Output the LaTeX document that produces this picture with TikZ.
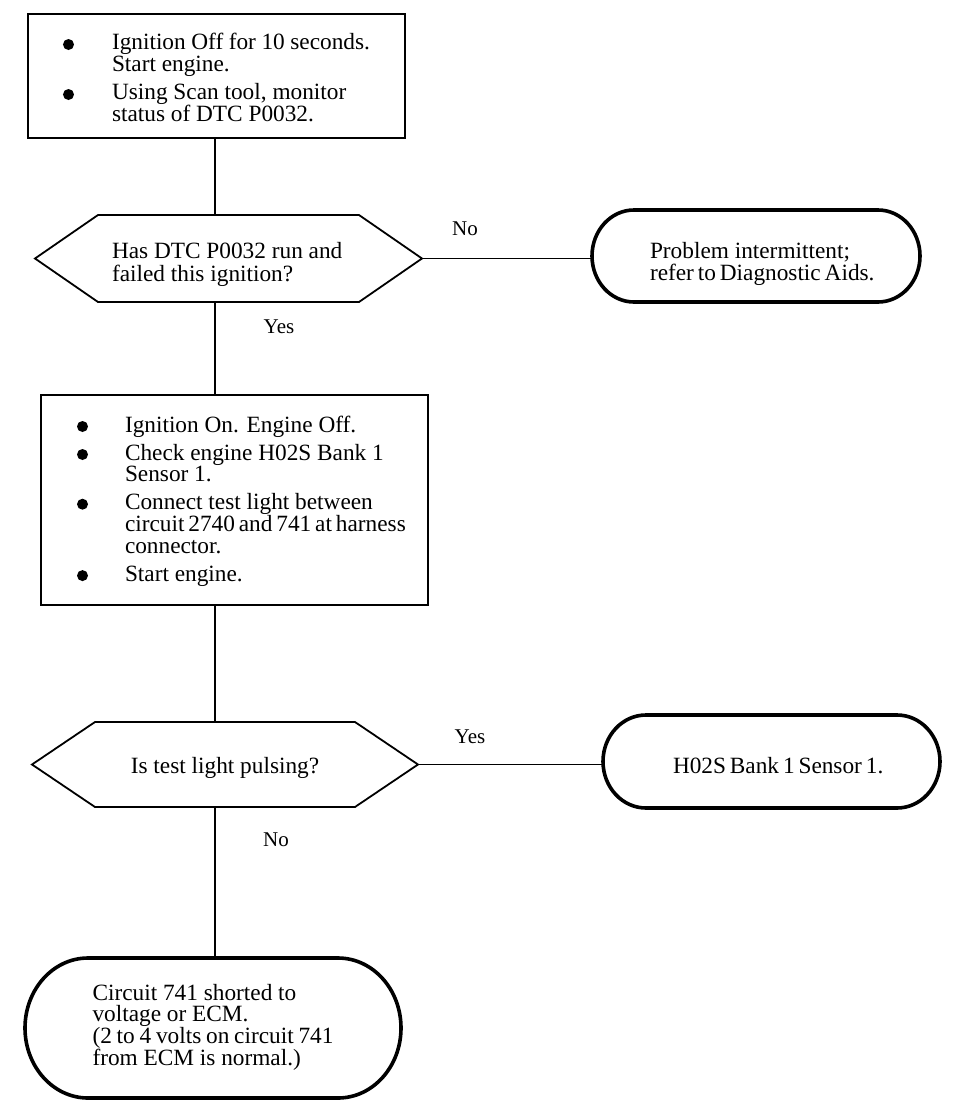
\documentclass[tikz,border=0pt]{standalone}
\usepackage{graphicx}
\usepackage{fontspec}
\setmainfont{Liberation Serif}
\newcommand\bul{\tikz[baseline=-5.5pt]\fill (0,0) circle (5.5pt);}
\newcommand\bline[3]{\hbox to #1{\hbox to #2{\bul\hfil}#3\hfil}}
\newcommand\pline[3]{\hbox to #1{\hskip#2\relax#3\hfil}}
\newcommand\tline[2]{\hbox to #1{#2\hfil}}
\newcommand\setlines[1]{\baselineskip=#1\lineskiplimit=-100pt\lineskip=0pt\relax}
\newcommand\termoutline[3]{\draw[termline] ([xshift=#2]#1.north west) -- ([xshift=-#2]#1.north east) arc[start angle=90,end angle=-90,x radius=#2,y radius=#3] -- ([xshift=#2]#1.south west) arc[start angle=270,end angle=90,x radius=#2,y radius=#3] -- cycle;}
\newcommand\hexoutline[2]{\draw[hexline] ([xshift=#2]#1.north west) -- ([xshift=-#2]#1.north east) -- (#1.east) -- ([xshift=-#2]#1.south east) -- ([xshift=#2]#1.south west) -- (#1.west) -- cycle;}
\tikzset{
  txt/.style={font=\fontsize{23.3pt}{23.3pt}\selectfont, inner sep=0pt, outer sep=0pt},
  stepbox/.style={txt, rectangle, draw, line width=1.8pt},
  shapebox/.style={txt, rectangle, draw=none},
  hexline/.style={line width=1.8pt, line join=miter},
  termline/.style={line width=3.6pt},
  conn/.style={line width=1.8pt},
  lbl/.style={font=\fontsize{21pt}{21pt}\selectfont, inner sep=0pt},
}
\begin{document}
\begin{tikzpicture}[x=1pt,y=-1pt]
\path[fill=white] (0,0) rectangle (960,1116);
\coordinate (sp) at (215,0);

% first step box
\node[stepbox, minimum width=377pt, minimum height=124pt, text height=10pt, text depth=62pt] (box1) at (216.5,76) {\vtop{\setlines{21.7pt}%
  \bline{307pt}{49pt}{Ignition Off for 10 seconds.}
  \pline{307pt}{49pt}{Start engine.}
  \vskip6.6pt
  \bline{307pt}{49pt}{Using Scan tool, monitor}
  \pline{307pt}{49pt}{status of DTC P0032.}}};

% first decision
\node[shapebox, minimum width=387pt, minimum height=87pt, text height=15pt, text depth=16pt] (hex1) at (228.5,258.5) {\vtop{\setlines{23pt}%
  \tline{233pt}{Has DTC P0032 run and}
  \tline{233pt}{failed this ignition?}}};
\hexoutline{hex1}{63pt}

% terminal: intermittent
\node[shapebox, minimum width=328pt, minimum height=92pt, text height=15pt, text depth=11pt] (term1) at (756,256) {\vtop{\setlines{22pt}%
  \tline{212pt}{Problem intermittent;}
  \tline{212pt}{refer to Diagnostic Aids.}}};
\termoutline{term1}{42pt}{46pt}

% second step box
\node[stepbox, minimum width=387pt, minimum height=210pt, text height=10pt, text depth=146pt] (box2) at (234.5,500) {\vtop{\setlines{21.7pt}%
  \bline{315pt}{48pt}{Ignition On. Engine Off.}
  \vskip6.3pt
  \bline{315pt}{48pt}{Check engine H02S Bank 1}
  \pline{315pt}{48pt}{Sensor 1.}
  \vskip6.3pt
  \bline{315pt}{48pt}{Connect test light between}
  \pline{315pt}{48pt}{circuit 2740 and 741 at harness}
  \pline{315pt}{48pt}{connector.}
  \vskip6.3pt
  \bline{315pt}{48pt}{Start engine.}}};

% second decision
\node[shapebox, minimum width=386pt, minimum height=85pt, text height=30pt, text depth=13pt] (hex2) at (225,764.5) {Is test light pulsing?};
\hexoutline{hex2}{63pt}

% terminal: sensor
\node[shapebox, minimum width=337pt, minimum height=93pt, text height=30pt, text depth=7pt] (term2) at (771.5,761.5) {\tline{197pt}{H02S Bank 1 Sensor 1.}};
\termoutline{term2}{43pt}{46.5pt}

% terminal: circuit 741
\node[shapebox, minimum width=376pt, minimum height=140pt, text height=10pt, text depth=66pt] (term3) at (213,1028) {\vtop{\setlines{21.7pt}%
  \tline{241pt}{Circuit 741 shorted to}
  \tline{241pt}{voltage or ECM.}
  \tline{241pt}{(2 to 4 volts on circuit 741}
  \tline{241pt}{from ECM is normal.)}}};
\termoutline{term3}{63pt}{70pt}

% connectors
\draw[conn] (box1.south -| sp) -- (hex1.north -| sp);
\draw[conn] (hex1.south -| sp) -- (box2.north -| sp);
\draw[conn] (box2.south -| sp) -- (hex2.north -| sp);
\draw[conn] (hex2.south -| sp) -- (term3.north -| sp);
\draw[conn] (hex1.east) -- (hex1.east -| term1.west);
\draw[conn] (hex2.east) -- (hex2.east -| term2.west);

% labels
\node[lbl] (lno1) at (465,229) {No};
\node[lbl] (lyes1) at (279,327) {Yes};
\node[lbl] (lyes2) at (470,737) {Yes};
\node[lbl] (lno2) at (276,840) {No};
\end{tikzpicture}
\end{document}
